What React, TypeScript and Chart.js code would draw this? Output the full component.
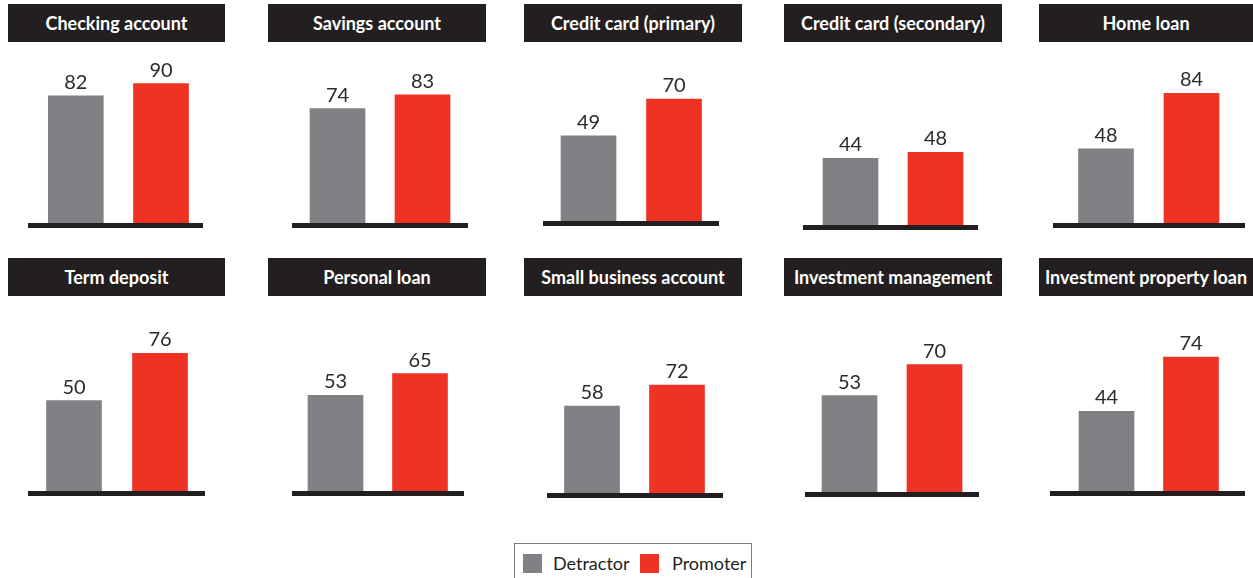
import React, { useEffect, useRef } from "react";
import { Chart, registerables } from "chart.js";

Chart.register(...registerables);

const categories = ["Detractor", "Promoter"];
const panelTitles = [
  "Checking account",
  "Savings account",
  "Credit card (primary)",
  "Credit card (secondary)",
  "Home loan",
  "Term deposit",
  "Personal loan",
  "Small business account",
  "Investment management",
  "Investment property loan",
];
const detractorValues = [82, 74, 49, 44, 48, 50, 53, 58, 53, 44];
const promoterValues = [90, 83, 70, 48, 84, 76, 65, 72, 70, 74];

const GRAY = "#808184";
const RED = "#ee3224";
const DARK = "#231f20";
const FONT = "Lato, 'Open Sans', sans-serif";

// layout (pixels): title boxes per column, row tops
const titleCols = [
  { x: 8, w: 217 },
  { x: 268, w: 218 },
  { x: 524, w: 218 },
  { x: 784, w: 218 },
  { x: 1039, w: 214 },
];
const titleRowTops = [4, 258];

// per panel layout: baseline left/right/top, bar centres, px per unit
const panelLayout = [
  { bl: 28, br: 203, by: 223, cg: 75.8, cr: 161, s: 1.55 },
  { bl: 292, br: 468, by: 223, cg: 337.5, cr: 422.5, s: 1.545 },
  { bl: 543, br: 719, by: 221, cg: 588.5, cr: 674, s: 1.74 },
  { bl: 803, br: 978, by: 225, cg: 850.5, cr: 935.5, s: 1.515 },
  { bl: 1053, br: 1245, by: 223, cg: 1106, cr: 1191.5, s: 1.545 },
  { bl: 28, br: 205, by: 491, cg: 74, cr: 160, s: 1.81 },
  { bl: 292, br: 464, by: 491, cg: 335.5, cr: 420, s: 1.805 },
  { bl: 547, br: 723, by: 493, cg: 592, cr: 677, s: 1.5 },
  { bl: 805, br: 979, by: 492, cg: 849.5, cr: 934.5, s: 1.82 },
  { bl: 1050, br: 1245, by: 491, cg: 1106.5, cr: 1191, s: 1.81 },
];

const TOP_SPACE = 175;
const CANVAS_H = 182;
const PAD_TOP = 15;

function Panel({ idx }: { idx: number }) {
  const ref = useRef<HTMLCanvasElement | null>(null);
  const L = panelLayout[idx];
  const left = L.bl - 10;
  const width = L.br - L.bl + 20;
  const top = L.by - TOP_SPACE;

  useEffect(() => {
    if (!ref.current) return;
    const W = 2 * (L.cr - L.cg);
    const areaLeft = L.cg - W / 4 - left;
    const padL = areaLeft;
    const padR = width - (areaLeft + W);
    const padB = CANVAS_H - TOP_SPACE;
    const plotH = CANVAS_H - padB - PAD_TOP;
    const yMax = plotH / L.s;

    const decor = {
      id: "decor" + idx,
      afterDatasetsDraw(chart: any) {
        const ctx = chart.ctx;
        const area = chart.chartArea;
        ctx.save();
        ctx.fillStyle = DARK;
        ctx.fillRect(L.bl - left, area.bottom, L.br - L.bl, 5);
        const meta = chart.getDatasetMeta(0);
        ctx.font = "20px " + FONT;
        ctx.textAlign = "center";
        ctx.textBaseline = "alphabetic";
        ctx.fillStyle = "#2b2b2b";
        meta.data.forEach((bar: any, i: number) => {
          const v = chart.data.datasets[0].data[i];
          ctx.fillText(String(v), bar.x, bar.y - 7);
        });
        ctx.restore();
      },
    };

    const chart = new Chart(ref.current, {
      type: "bar",
      data: {
        labels: categories,
        datasets: [
          {
            data: [detractorValues[idx], promoterValues[idx]],
            backgroundColor: [GRAY, RED],
            borderWidth: 0,
            barThickness: 55,
          },
        ],
      },
      options: {
        responsive: false,
        animation: false,
        devicePixelRatio: 1,
        layout: { padding: { left: padL, right: padR, top: PAD_TOP, bottom: padB } },
        plugins: { legend: { display: false }, tooltip: { enabled: false }, title: { display: false } },
        scales: {
          x: { display: false },
          y: { display: false, min: 0, max: yMax },
        },
      },
      plugins: [decor],
    });
    return () => chart.destroy();
  }, [idx]);

  return (
    <canvas
      ref={ref}
      width={width}
      height={CANVAS_H}
      style={{ position: "absolute", left, top, width, height: CANVAS_H }}
    />
  );
}

export default function App() {
  return (
    <div
      style={{
        position: "absolute",
        left: 0,
        top: 0,
        width: 1253,
        height: 578,
        overflow: "hidden",
        background: "#fff",
        fontFamily: FONT,
      }}
    >
      {panelTitles.map((t, i) => {
        const col = titleCols[i % 5];
        const topY = titleRowTops[Math.floor(i / 5)];
        return (
          <div
            key={"t" + i}
            style={{
              position: "absolute",
              left: col.x,
              top: topY,
              width: col.w,
              height: 38,
              background: DARK,
              color: "#fff",
              fontWeight: 700,
              fontSize: 18,
              lineHeight: "38px",
              textAlign: "center",
              whiteSpace: "nowrap",
              overflow: "hidden",
            }}
          >
            {t}
          </div>
        );
      })}
      {panelTitles.map((_, i) => (
        <Panel key={"p" + i} idx={i} />
      ))}
      <div
        style={{
          position: "absolute",
          left: 514,
          top: 543,
          width: 238,
          height: 45,
          border: "1px solid #7a7a7a",
          boxSizing: "border-box",
        }}
      >
        <div style={{ position: "absolute", left: 8, top: 10, width: 19, height: 19, background: GRAY }} />
        <div style={{ position: "absolute", left: 38, top: 7, fontSize: 18, color: "#231f20", lineHeight: "24px" }}>
          {categories[0]}
        </div>
        <div style={{ position: "absolute", left: 125, top: 10, width: 19, height: 19, background: RED }} />
        <div style={{ position: "absolute", left: 157, top: 7, fontSize: 18, color: "#231f20", lineHeight: "24px" }}>
          {categories[1]}
        </div>
      </div>
    </div>
  );
}
